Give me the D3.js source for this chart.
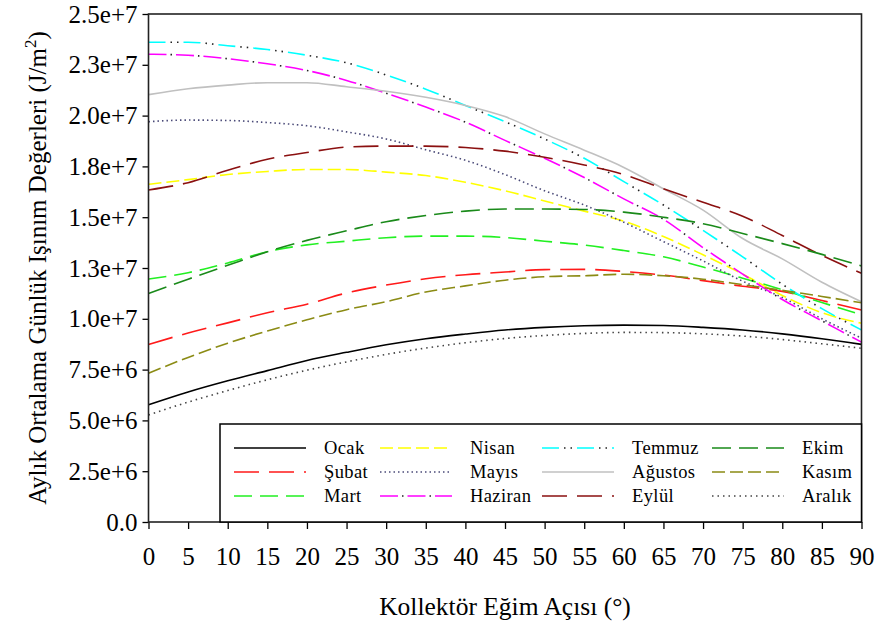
<!DOCTYPE html>
<html>
<head>
<meta charset="utf-8">
<script src="https://cdn.jsdelivr.net/npm/d3@7"></script>
<style>
body { margin: 0; background: #fff; }
svg text { font-family: "Liberation Serif", "Times New Roman", serif; }
</style>
</head>
<body>
<svg id="chart" width="880" height="628"></svg>
<script>
// tilt angle (deg) and monthly mean daily irradiation (x 1e6 J/m2)
var angles = [0, 5, 10, 15, 20, 25, 30, 35, 40, 45, 50, 55, 60, 65, 70, 75, 80, 85, 90];

var ocak    = [5.77, 6.40, 6.95, 7.45, 7.95, 8.35, 8.72, 9.02, 9.25, 9.45, 9.58, 9.66, 9.69, 9.67, 9.58, 9.45, 9.26, 9.02, 8.74];
var subat   = [8.74, 9.30, 9.80, 10.30, 10.72, 11.27, 11.66, 11.97, 12.17, 12.30, 12.42, 12.43, 12.33, 12.15, 11.88, 11.60, 11.35, 10.90, 10.43];
var mart    = [11.96, 12.27, 12.75, 13.30, 13.64, 13.82, 13.99, 14.07, 14.07, 14.00, 13.82, 13.63, 13.36, 13.05, 12.55, 12.00, 11.43, 10.80, 10.20];
var nisan   = [16.62, 16.85, 17.10, 17.25, 17.35, 17.35, 17.22, 17.05, 16.72, 16.30, 15.80, 15.30, 14.80, 14.05, 13.15, 12.20, 11.15, 10.30, 9.78];
var mayis   = [19.70, 19.78, 19.76, 19.66, 19.50, 19.20, 18.85, 18.32, 17.80, 17.10, 16.30, 15.60, 14.75, 13.80, 12.85, 11.85, 11.05, 10.00, 9.05];
var haziran = [23.02, 22.97, 22.80, 22.55, 22.22, 21.73, 21.10, 20.42, 19.68, 18.78, 17.90, 16.95, 15.90, 14.90, 13.50, 12.20, 10.95, 9.90, 8.85];
var temmuz  = [23.61, 23.61, 23.44, 23.25, 22.97, 22.60, 22.00, 21.30, 20.50, 19.70, 18.85, 17.90, 16.75, 15.60, 14.35, 13.05, 11.70, 10.50, 9.45];
var agustos = [21.03, 21.32, 21.50, 21.62, 21.62, 21.42, 21.20, 20.90, 20.50, 19.95, 19.10, 18.30, 17.45, 16.40, 15.35, 13.95, 12.95, 11.80, 10.84];
var eylul   = [16.34, 16.70, 17.31, 17.85, 18.18, 18.45, 18.50, 18.50, 18.43, 18.25, 17.95, 17.57, 17.10, 16.40, 15.73, 15.05, 14.10, 13.12, 12.24];
var ekim    = [11.25, 11.95, 12.63, 13.30, 13.86, 14.33, 14.78, 15.08, 15.30, 15.40, 15.40, 15.38, 15.25, 15.00, 14.68, 14.20, 13.70, 13.17, 12.60];
var kasim   = [7.32, 8.10, 8.80, 9.40, 9.95, 10.45, 10.84, 11.32, 11.62, 11.90, 12.07, 12.12, 12.19, 12.12, 11.95, 11.68, 11.40, 11.10, 10.79];
var aralik  = [5.27, 5.90, 6.47, 7.00, 7.47, 7.88, 8.25, 8.56, 8.82, 9.03, 9.18, 9.28, 9.33, 9.32, 9.26, 9.15, 8.98, 8.77, 8.55];

var monthNames = ["Ocak", "Şubat", "Mart", "Nisan", "Mayıs", "Haziran",
                  "Temmuz", "Ağustos", "Eylül", "Ekim", "Kasım", "Aralık"];

var yTicks = [0, 2.5, 5, 7.5, 10, 12.5, 15, 17.5, 20, 22.5, 25];
var yTickLabels = ["0.0", "2.5e+6", "5.0e+6", "7.5e+6", "1.0e+7", "1.3e+7",
                   "1.5e+7", "1.8e+7", "2.0e+7", "2.3e+7", "2.5e+7"];
var xTicks = [0, 5, 10, 15, 20, 25, 30, 35, 40, 45, 50, 55, 60, 65, 70, 75, 80, 85, 90];

// line styles: dash = coloured part, dots = dark dots on top
var series = [
  {values: ocak,    color: "#000000", dash: null},
  {values: subat,   color: "#ff1a1a", dash: "25,10"},
  {values: mart,    color: "#22f022", dash: "18,8"},
  {values: nisan,   color: "#ffff00", dash: "13,5"},
  {values: mayis,   color: "#4a4a78", dash: "1.5,3"},
  {values: haziran, color: "#ff00ff", dash: "18,9.5", dots: "0,22,1.5,4"},
  {values: temmuz,  color: "#00ffff", dash: "17,18", dots: "0,22,1.5,5,1.5,5"},
  {values: agustos, color: "#c0c0c0", dash: null},
  {values: eylul,   color: "#8b1010", dash: "25,10"},
  {values: ekim,    color: "#1a8a1a", dash: "19,8"},
  {values: kasim,   color: "#8b8b14", dash: "13,5"},
  {values: aralik,  color: "#444444", dash: "1.5,4"}
];
series.forEach(function(s, i) { s.name = monthNames[i]; });

var svg = d3.select("#chart");
var plotLeft = 148.5, plotRight = 861.5, plotTop = 14, plotBottom = 522;

var x = d3.scaleLinear().domain([0, 90]).range([plotLeft, plotRight]);
var y = d3.scaleLinear().domain([0, 25]).range([plotBottom, plotTop]);

var line = d3.line()
    .x(function(d) { return x(d[0]); })
    .y(function(d) { return y(d[1]); })
    .curve(d3.curveMonotoneX);

function drawLine(g, pts, s, lineGen) {
  g.append("path")
    .datum(pts)
    .attr("d", lineGen)
    .attr("fill", "none")
    .attr("stroke", s.color)
    .attr("stroke-width", 1.6)
    .attr("stroke-dasharray", s.dash);
  if (s.dots) {
    g.append("path")
      .datum(pts)
      .attr("d", lineGen)
      .attr("fill", "none")
      .attr("stroke", "#222")
      .attr("stroke-width", 1.6)
      .attr("stroke-dasharray", s.dots);
  }
}

var plot = svg.append("g");
series.forEach(function(s) {
  var pts = angles.map(function(a, i) { return [a, s.values[i]]; });
  drawLine(plot, pts, s, line);
});

// axes
var yAxis = d3.axisLeft(y).tickValues(yTicks).tickSize(6).tickPadding(5)
    .tickFormat(function(d, i) { return yTickLabels[i]; });
var xAxis = d3.axisBottom(x).tickValues(xTicks).tickSize(7).tickPadding(18)
    .tickFormat(function(d) { return d; });

var gy = svg.append("g").attr("transform", "translate(" + plotLeft + ",0)").call(yAxis);
var gx = svg.append("g").attr("transform", "translate(0," + plotBottom + ")").call(xAxis);
[gy, gx].forEach(function(g) {
  g.attr("font-family", null).attr("font-size", 25);
  g.select(".domain").remove();
  g.selectAll(".tick line").attr("stroke", "#000").attr("stroke-width", 1.3);
  g.selectAll(".tick text").attr("fill", "#000");
});

// frame
svg.append("rect")
  .attr("x", plotLeft).attr("y", plotTop)
  .attr("width", plotRight - plotLeft).attr("height", plotBottom - plotTop)
  .attr("fill", "none").attr("stroke", "#222").attr("stroke-width", 1.6);

// axis titles
svg.append("text")
  .attr("x", (plotLeft + plotRight) / 2).attr("y", 615)
  .attr("text-anchor", "middle")
  .attr("font-size", 25.5)
  .text("Kollektör Eğim Açısı (°)");

var yt = svg.append("text")
  .attr("transform", "translate(46,268) rotate(-90)")
  .attr("text-anchor", "middle")
  .attr("font-size", 25);
yt.append("tspan").text("Aylık Ortalama Günlük Işınım Değerleri (J/m");
yt.append("tspan").attr("dy", -10).attr("font-size", 17).text("2");
yt.append("tspan").attr("dy", 10).text(")");

// legend
var legX = [234, 380, 542, 712], legY = [448, 472, 496];
var leg = svg.append("g");
leg.append("rect")
  .attr("x", 220).attr("y", 424)
  .attr("width", plotRight - 220).attr("height", plotBottom - 424)
  .attr("fill", "#fff").attr("stroke", "#000").attr("stroke-width", 1.5);

series.forEach(function(s, i) {
  var lx = legX[Math.floor(i / 3)], ly = legY[i % 3];
  var lineX = d3.scaleLinear().domain([0, 1]).range([lx, lx + 72]);
  var legLine = d3.line().x(function(d) { return lineX(d[0]); }).y(function() { return ly; });
  drawLine(leg, [[0], [1]], s, legLine);
  leg.append("text")
    .attr("x", lx + 90).attr("y", ly + 6)
    .attr("font-size", 18.5)
    .attr("letter-spacing", 0.4)
    .text(s.name);
});
</script>
</body>
</html>
